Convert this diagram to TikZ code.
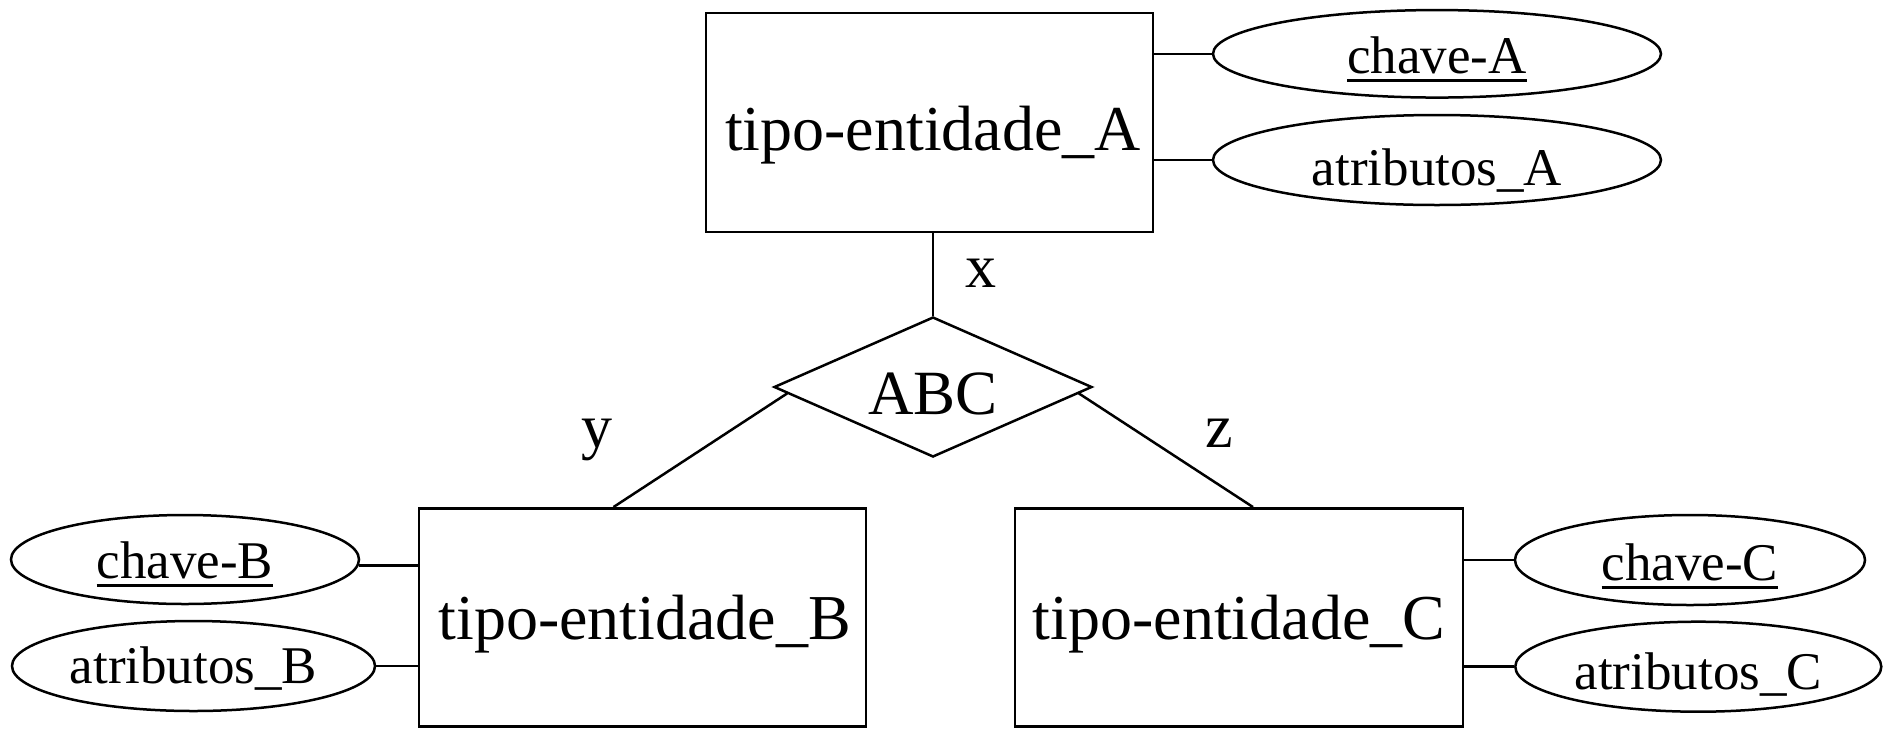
\documentclass[tikz,border=0pt]{standalone}
\usepackage{fontspec}
\setmainfont{Liberation Serif}
\usetikzlibrary{shapes.geometric,calc}
% key attributes are underlined with a rule that scales with the big type
\newsavebox\keybox
\newcommand\keyattr[1]{\sbox\keybox{#1}\rlap{\rule[-8.7pt]{\wd\keybox}{2.8pt}}\usebox\keybox}
\begin{document}
\begin{tikzpicture}[x=1pt,y=-1pt,line width=2.5pt,
  entity/.style={draw,rectangle,inner sep=0pt,minimum width=447pt,minimum height=219pt,
    font=\fontsize{64}{70}\selectfont,text depth=0pt},
  attr/.style={draw,ellipse,inner sep=0pt,minimum height=90pt,
    font=\fontsize{53}{60}\selectfont,text depth=0pt},
  rel/.style={draw,diamond,aspect=2.27,inner sep=0pt,minimum width=318pt,minimum height=140pt,
    font=\fontsize{63}{70}\selectfont,text depth=0pt},
  lbl/.style={inner sep=0pt,anchor=base,font=\fontsize{62}{70}\selectfont}]
\useasboundingbox (0,0) rectangle (1887,729);

% entity types
\node[entity,text height=57pt] (A) at (929.5,122.4) {\hspace{7pt}tipo-entidade\_A};
\node[entity,text height=43pt,minimum height=218.4pt] (B) at (642.7,617.5) {\hspace{4pt}tipo-entidade\_B};
\node[entity,text height=43pt,minimum height=218.4pt,minimum width=448pt] (C) at (1239,617.5) {tipo-entidade\_C\hspace{4pt}};

% ternary relationship
\node[rel,text height=55pt] (R) at (933,387) {ABC};

% attributes
\node[attr,minimum width=448pt,minimum height=87.5pt,text height=39pt] (kA) at (1437,53.8) {\keyattr{chave-A}};
\node[attr,minimum width=448pt,text height=50pt] (aA) at (1437,160) {atributos\_A};
\node[attr,minimum width=348pt,minimum height=89pt,text height=37pt] (kB) at (185,559.5) {\keyattr{chave-B}};
\node[attr,minimum width=363pt,text height=35pt] (aB) at (193.5,666) {atributos\_B};
\node[attr,minimum width=350pt,text height=40pt] (kC) at (1690,560) {\keyattr{chave-C}};
\node[attr,minimum width=366pt,text height=46pt] (aC) at (1698.3,666.7) {atributos\_C};

% attribute links
\draw (A.east |- kA.west) -- (kA.west);
\draw (A.east |- aA.west) -- (aA.west);
\draw (kB.-2.5) -- (kB.-2.5 -| B.west);
\draw (aB.east) -- (aB.east -| B.west);
\draw (kC.west) -- (kC.west -| C.east);
\draw (aC.west) -- (aC.west -| C.east);

% relationship links
\draw (R.north) -- (R.north |- A.south);
\draw ($(R.west)!0.09!(R.south)$) -- ($(B.north west)!0.435!(B.north east)$);
\draw ($(R.east)!0.09!(R.south)$) -- ($(C.north west)!0.531!(C.north east)$);

% role labels
\node[lbl] (lx) at (981,287) {x};
\node[lbl] (ly) at (597,447) {y};
\node[lbl] (lz) at (1219,447) {z};
\end{tikzpicture}
\end{document}
